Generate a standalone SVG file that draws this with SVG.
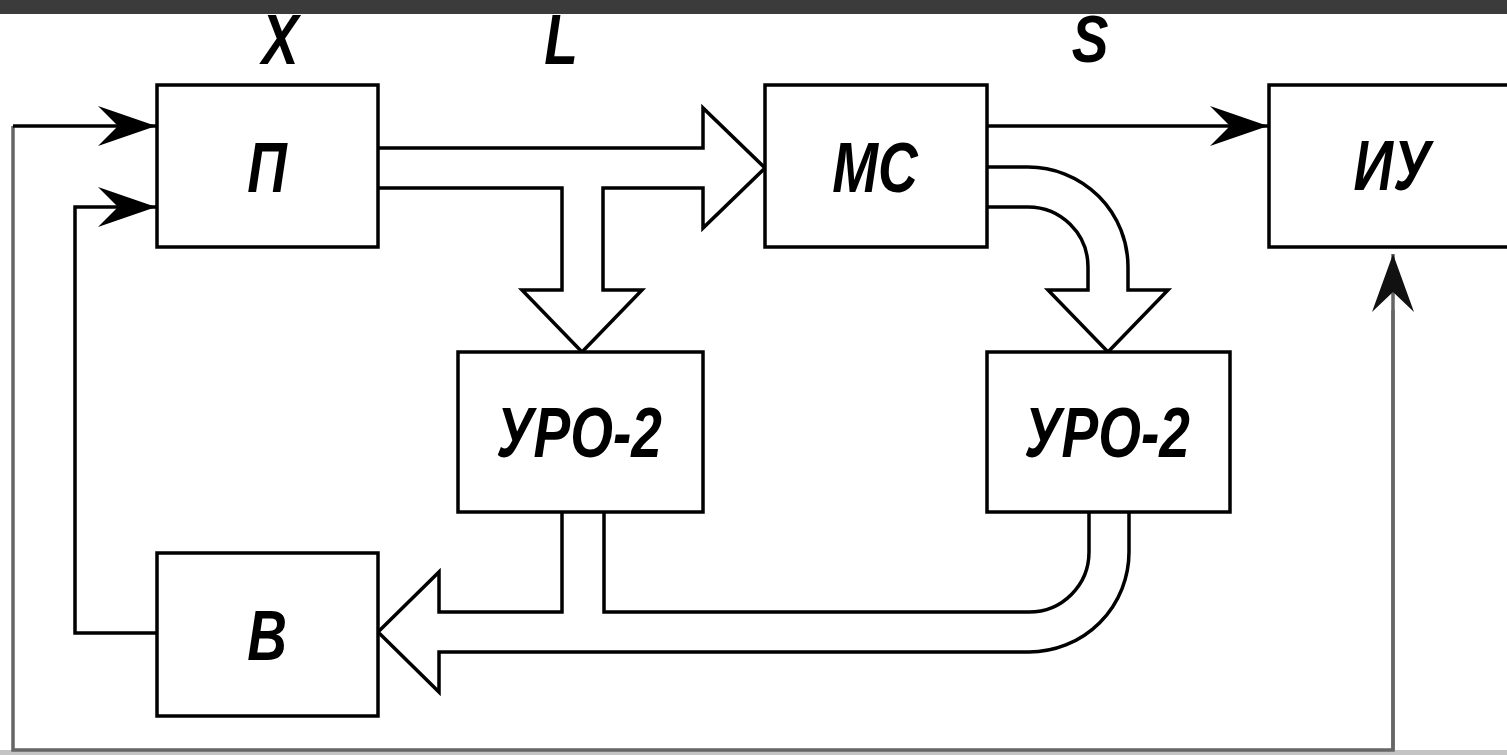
<svg xmlns="http://www.w3.org/2000/svg" width="1507" height="755" viewBox="0 0 1507 755">
<style>
.box{fill:#fff;stroke:#000;stroke-width:3.5}
.ln{fill:none;stroke:#000;stroke-width:3.5}
.gl{fill:none;stroke:#666;stroke-width:3.5}
.hol{fill:#fff;stroke:#000;stroke-width:3.5;stroke-linejoin:miter}
.t{font-family:"Liberation Sans",Arial,sans-serif;font-weight:bold;font-style:italic;font-size:55px;fill:#000;text-anchor:middle}
</style>
<defs>
<marker id="ah" viewBox="-62 -24 64 48" markerWidth="64" markerHeight="48" refX="0" refY="0" orient="auto" markerUnits="userSpaceOnUse">
<path d="M0,0 L-58,-20 L-38,0 L-58,20 Z" fill="#000"/>
</marker>
<marker id="ahg" viewBox="-62 -24 64 48" markerWidth="64" markerHeight="48" refX="0" refY="0" orient="auto" markerUnits="userSpaceOnUse">
<path d="M0,0 L-58,-21 L-38,0 L-58,21 Z" fill="#111"/>
</marker>
</defs>
<rect x="0" y="0" width="1507" height="755" fill="#fff"/>
<rect x="0" y="0" width="1507" height="14" fill="#3b3b3b"/>
<rect x="0" y="750" width="1507" height="5" fill="#c4c4c4"/>

<g id="labels">
<text class="t" transform="translate(280,64) scale(1,1.27)">X</text>
<text class="t" transform="translate(561,64) scale(1,1.27)">L</text>
<text class="t" transform="translate(1090,62) scale(1,1.22)">S</text>
</g>

<g id="connectors">
<path class="gl" d="M1393,310 L1393,750 L13,750 L13,126"/>
<path class="ln" d="M13,126 L156,126" marker-end="url(#ah)"/>
<path class="ln" d="M157,633 L75,633 L75,207 L156,207" marker-end="url(#ah)"/>
<path class="ln" d="M987,126 L1268,126" marker-end="url(#ah)"/>
<path class="gl" d="M1393,750 L1393,254" marker-end="url(#ahg)"/>
<path class="hol" d="M378,148 L703,148 L703,108 L765,168 L703,228 L703,188 L603,188 L603,290 L642,290 L582,352 L522,290 L562,290 L562,188 L378,188"/>
<path class="hol" d="M987,167 L1028,167 A100,100 0 0 1 1128,267 L1128,290 L1168,290 L1108,352 L1048,290 L1088,290 L1088,267 A60,60 0 0 0 1028,207 L987,207"/>
<path class="hol" d="M562,512 L562,612 L439,612 L439,572 L378,632 L439,692 L439,652 L1029,652 A100,100 0 0 0 1129,552 L1129,512"/>
<path class="ln" d="M1089,512 L1089,552 A60,60 0 0 1 1029,612 L604,612 L604,512"/>
</g>

<g id="node-P">
<rect class="box" x="157" y="85" width="221" height="162"/>
<text class="t" transform="translate(267,192) scale(1,1.27)">П</text>
</g>
<g id="node-MS">
<rect class="box" x="765" y="85" width="222" height="162"/>
<text class="t" transform="translate(875,192) scale(1,1.27)">МС</text>
</g>
<g id="node-IU">
<rect class="box" x="1269" y="85" width="260" height="162"/>
<text class="t" transform="translate(1392,190) scale(1,1.27)">ИУ</text>
</g>
<g id="node-URO2-left">
<rect class="box" x="458" y="352" width="245" height="160"/>
<text class="t" transform="translate(579,457) scale(1,1.27)">УРО-2</text>
</g>
<g id="node-URO2-right">
<rect class="box" x="987" y="352" width="243" height="160"/>
<text class="t" transform="translate(1107,457) scale(1,1.27)">УРО-2</text>
</g>
<g id="node-V">
<rect class="box" x="157" y="553" width="221" height="163"/>
<text class="t" transform="translate(267,660) scale(1,1.27)">В</text>
</g>
</svg>
